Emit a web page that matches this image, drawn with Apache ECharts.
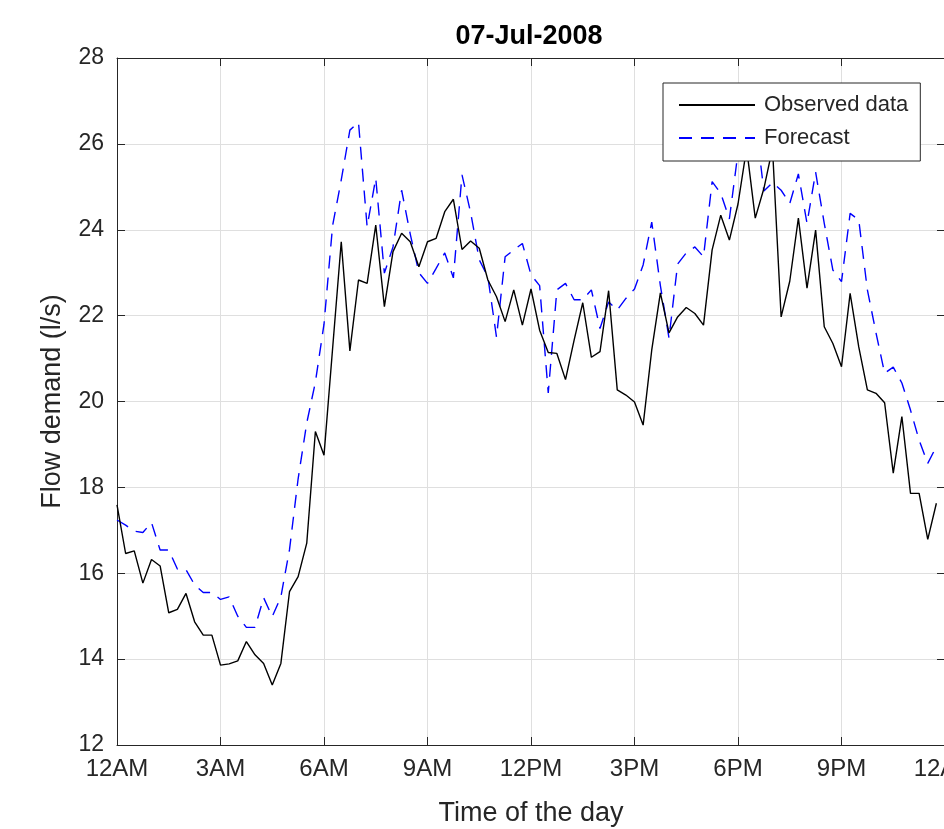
<!DOCTYPE html>
<html>
<head>
<meta charset="utf-8">
<script src="https://cdn.jsdelivr.net/npm/echarts@6/dist/echarts.min.js"></script>
<style>
html,body{margin:0;padding:0;background:#fff;}
#chart{width:944px;height:829px;}
</style>
</head>
<body>
<div id="chart"></div>
<script>
// 15-minute samples, 12AM .. 11:45PM
const observed = [
  17.59, 16.46, 16.52, 15.77, 16.32, 16.17, 15.08, 15.16, 15.53, 14.87, 14.56, 14.56,
  13.86, 13.89, 13.96, 14.41, 14.10, 13.90, 13.40, 13.90, 15.57, 15.92, 16.70, 19.30,
  18.75, 21.24, 23.72, 21.18, 22.83, 22.75, 24.11, 22.21, 23.49, 23.92, 23.72, 23.14,
  23.72, 23.80, 24.42, 24.71, 23.54, 23.74, 23.57, 22.83, 22.44, 21.86, 22.60, 21.78,
  22.62, 21.66, 21.14, 21.12, 20.51, 21.43, 22.30, 21.03, 21.16, 22.58, 20.27, 20.15,
  19.99, 19.45, 21.20, 22.53, 21.60, 21.97, 22.19, 22.05, 21.78, 23.53, 24.34, 23.76,
  24.60, 25.90, 24.27, 24.96, 25.90, 21.97, 22.80, 24.27, 22.64, 23.99, 21.74, 21.35,
  20.81, 22.52, 21.27, 20.27, 20.19, 19.97, 18.33, 19.65, 17.86, 17.86, 16.79, 17.63
];
const forecast = [
  17.24, 17.12, 16.98, 16.95, 17.18, 16.54, 16.54, 16.10, 16.08, 15.73, 15.55, 15.55,
  15.39, 15.45, 15.00, 14.74, 14.74, 15.43, 14.99, 15.45, 16.55, 18.20, 19.50, 20.45,
  21.80, 24.10, 25.16, 26.32, 26.50, 24.07, 25.20, 22.99, 23.60, 24.92, 23.90, 23.00,
  22.75, 23.10, 23.46, 22.88, 25.28, 24.40, 23.30, 22.90, 21.50, 23.37, 23.53, 23.68,
  22.95, 22.70, 20.20, 22.60, 22.75, 22.37, 22.37, 22.60, 21.70, 22.32, 22.13, 22.40,
  22.62, 23.18, 24.18, 22.70, 21.48, 23.20, 23.46, 23.60, 23.37, 25.12, 24.85, 24.25,
  25.80, 26.20, 26.60, 24.90, 25.10, 24.92, 24.61, 25.30, 24.15, 25.34, 24.15, 23.06,
  22.79, 24.38, 24.23, 22.60, 21.60, 20.66, 20.80, 20.43, 19.80, 19.10, 18.56, 18.95
];
const xTickLabels = ['12AM', '3AM', '6AM', '9AM', '12PM', '3PM', '6PM', '9PM', '12AM'];
const seriesNames = ['Observed data', 'Forecast'];
const titleText = '07-Jul-2008';
const xName = 'Time of the day';
const yName = 'Flow demand (l/s)';

const FONT = "'Liberation Sans', Arial, Helvetica, sans-serif";
const AX = '#262626';
const toPairs = arr => arr.map((v, i) => [i * 0.25, v]);

const chart = echarts.init(document.getElementById('chart'), null, {renderer: 'canvas'});
const baseX = {
  type: 'value', min: 0, max: 24, interval: 3,
  axisLine: {show: true, onZero: false, lineStyle: {color: AX, width: 1}},
  axisTick: {show: true, inside: true, length: 8, lineStyle: {color: AX}},
};
const baseY = {
  type: 'value', min: 12, max: 28, interval: 2,
  axisLine: {show: true, onZero: false, lineStyle: {color: AX, width: 1}},
  axisTick: {show: true, inside: true, length: 8, lineStyle: {color: AX}},
};
chart.setOption({
  animation: false,
  backgroundColor: '#ffffff',
  textStyle: {fontFamily: FONT},
  graphic: [{
    type: 'text', x: 529, y: 23,
    style: {text: titleText, textAlign: 'center', textVerticalAlign: 'top',
            font: "bold 27px " + FONT, fill: '#000'}
  }],
  grid: {left: 117, top: 58, width: 828, height: 687, containLabel: false, outerBoundsMode: 'none'},
  legend: {
    orient: 'vertical', left: 663, top: 83,
    padding: [11, 12, 12, 15],
    itemGap: 11, itemWidth: 76, itemHeight: 14,
    backgroundColor: '#ffffff', borderColor: AX, borderWidth: 1, borderRadius: 0,
    itemStyle: {opacity: 0},
    textStyle: {fontFamily: FONT, fontSize: 22, color: AX, lineHeight: 22, padding: [0, 0, 0, 4]},
    data: seriesNames
  },
  xAxis: [
    Object.assign({}, baseX, {
      position: 'bottom',
      name: xName, nameLocation: 'middle', nameGap: 55,
      nameTextStyle: {fontFamily: FONT, fontSize: 27, color: AX},
      axisLabel: {
        margin: 12, fontFamily: FONT, fontSize: 24, color: AX,
        formatter: v => xTickLabels[Math.round(v / 3)]
      },
      splitLine: {show: true, lineStyle: {color: '#dfdfdf', width: 1}}
    }),
    Object.assign({}, baseX, {position: 'top', axisLabel: {show: false}, splitLine: {show: false}})
  ],
  yAxis: [
    Object.assign({}, baseY, {
      position: 'left',
      name: yName, nameLocation: 'middle', nameGap: 51, nameRotate: 90,
      nameTextStyle: {fontFamily: FONT, fontSize: 27, color: AX},
      axisLabel: {margin: 13, fontFamily: FONT, fontSize: 23, color: AX},
      splitLine: {show: true, lineStyle: {color: '#dfdfdf', width: 1}}
    }),
    Object.assign({}, baseY, {position: 'right', axisLabel: {show: false}, splitLine: {show: false}})
  ],
  series: [
    {
      name: seriesNames[0], type: 'line', data: toPairs(observed),
      symbol: 'none', showSymbol: false, z: 3,
      lineStyle: {color: '#000000', width: 1.4},
      itemStyle: {color: '#000000'}
    },
    {
      name: seriesNames[1], type: 'line', data: toPairs(forecast),
      symbol: 'none', showSymbol: false, z: 2,
      lineStyle: {color: '#0000ff', width: 1.4, type: [13, 9]},
      itemStyle: {color: '#0000ff'}
    }
  ]
});
</script>
</body>
</html>
